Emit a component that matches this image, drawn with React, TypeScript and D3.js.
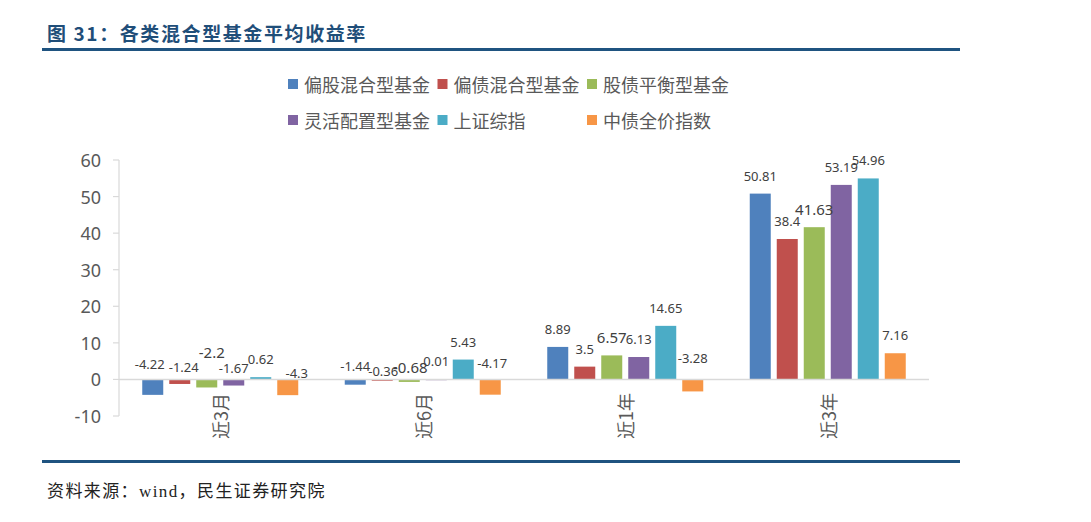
import React from "react";
import * as d3 from "d3";

const categories = ["近3月", "近6月", "近1年", "近3年"];
const seriesNames = ["偏股混合型基金", "偏债混合型基金", "股债平衡型基金", "灵活配置型基金", "上证综指", "中债全价指数"];
const pianGuValues = [-4.22, -1.44, 8.89, 50.81];
const pianZhaiValues = [-1.24, -0.36, 3.5, 38.4];
const guZhaiValues = [-2.2, -0.68, 6.57, 41.63];
const lingHuoValues = [-1.67, 0.01, 6.13, 53.19];
const shangZhengValues = [0.62, 5.43, 14.65, 54.96];
const zhongZhaiValues = [-4.3, -4.17, -3.28, 7.16];
const yTicks = [-10, 0, 10, 20, 30, 40, 50, 60];

const seriesValues = [pianGuValues, pianZhaiValues, guZhaiValues, lingHuoValues, shangZhengValues, zhongZhaiValues];
const colors = ["#4F81BD", "#C0504D", "#9BBB59", "#8064A2", "#4BACC6", "#F79646"];

// small label nudges (category-series) mimicking the reference's label placement
const labelNudge: Record<string, [number, number]> = {
  "0-0": [-3, 0],
  "0-1": [4, 2.5],
  "0-2": [5, -12.5],
  "0-3": [0, 3.5],
  "0-5": [9, 8.5],
  "1-0": [0, 1.5],
  "1-1": [1, 6.5],
  "1-2": [1, 2.5],
  "1-5": [2, -1],
  "2-5": [0, -6],
};

const SANS = '"Noto Sans CJK SC", "Noto Sans", sans-serif';
const NUM = '"Noto Sans", "Noto Sans CJK SC", sans-serif';

export default function App() {
  const W = 1091, H = 522;
  const plotLeft = 119, plotRight = 929;
  const y = d3.scaleLinear().domain([-10, 60]).range([416, 160]);
  const x0 = d3.scaleBand<string>().domain(categories).range([plotLeft, plotRight]).padding(0);
  const bw = x0.bandwidth();
  const groupW = 162;
  const x1 = d3
    .scaleBand<number>()
    .domain(d3.range(seriesNames.length))
    .range([(bw - groupW) / 2, (bw + groupW) / 2])
    .paddingInner(6 / 27)
    .paddingOuter(3 / 27);

  const fmt = (v: number) => String(v);

  return (
    <svg width={W} height={H} style={{ position: "absolute", left: 0, top: 0, background: "#fff" }}>
      <rect x={0} y={0} width={W} height={H} fill="#fff" />
      {/* Title */}
      <text x={47} y={41} fontFamily={SANS} fontWeight={700} fontSize={19} fill="#1F4E79" letterSpacing={1.6}>
        图 31：各类混合型基金平均收益率
      </text>
      <line x1={42} x2={960} y1={49.5} y2={49.5} stroke="#1F5380" strokeWidth={3} />

      {/* Legend */}
      {seriesNames.map((name, i) => {
        const col = i % 3;
        const row = Math.floor(i / 3);
        const lx = 288 + col * 149.5;
        const ly = 84 + row * 36;
        return (
          <g key={name}>
            <rect x={lx} y={ly - 5} width={10} height={10} fill={colors[i]} />
            <text x={lx + 16} y={ly} dominantBaseline="central" fontFamily={SANS} fontSize={18} fill="#595959">
              {name}
            </text>
          </g>
        );
      })}

      {/* Y axis */}
      <line x1={plotLeft} x2={plotLeft} y1={y(60)} y2={y(-10)} stroke="#D9D9D9" strokeWidth={1.2} />
      {yTicks.map((t) => (
        <g key={t}>
          <line x1={plotLeft - 6} x2={plotLeft} y1={y(t)} y2={y(t)} stroke="#D9D9D9" strokeWidth={1.2} />
          <text x={101} y={y(t)} textAnchor="end" dominantBaseline="central" fontFamily={NUM} fontSize={18} fill="#595959">
            {t}
          </text>
        </g>
      ))}

      {/* Bars */}
      {categories.map((c, ci) => (
        <g key={c} transform={`translate(${x0(c)},0)`}>
          {seriesValues.map((vals, si) => {
            const v = vals[ci];
            const top = y(Math.max(v, 0));
            const bottom = y(Math.min(v, 0));
            return (
              <rect key={si} x={x1(si)} y={top} width={x1.bandwidth()} height={Math.max(bottom - top, 0.8)} fill={colors[si]} />
            );
          })}
        </g>
      ))}

      {/* X axis (zero line) */}
      <line x1={plotLeft} x2={plotRight} y1={y(0)} y2={y(0)} stroke="#D9D9D9" strokeWidth={1.5} />

      {/* Data labels */}
      {categories.map((c, ci) => (
        <g key={c + "lab"} transform={`translate(${x0(c)},0)`}>
          {seriesValues.map((vals, si) => {
            const v = vals[ci];
            const big = si === 2;
            const [dx, dy] = labelNudge[`${ci}-${si}`] || [0, 0];
            const cy = (v >= 0 ? y(v) - 18 : y(0) - 15) + dy;
            return (
              <text
                key={si}
                x={(x1(si) as number) + x1.bandwidth() / 2 + dx}
                y={cy}
                textAnchor="middle"
                dominantBaseline="central"
                fontFamily={NUM}
                fontSize={big ? 15 : 13}
                fill="#404040"
              >
                {fmt(v)}
              </text>
            );
          })}
        </g>
      ))}

      {/* Category labels */}
      {categories.map((c) => {
        const cx = (x0(c) as number) + bw / 2;
        return (
          <text
            key={c + "cat"}
            transform={`translate(${cx},${393}) rotate(-90)`}
            textAnchor="end"
            dominantBaseline="central"
            fontFamily={SANS}
            fontSize={18}
            fill="#595959"
          >
            {c}
          </text>
        );
      })}

      {/* Bottom rule & source */}
      <line x1={42} x2={960} y1={461.5} y2={461.5} stroke="#1F5380" strokeWidth={3} />
      <text x={47} y={497} fontFamily={'"Liberation Serif", "Noto Sans CJK SC", serif'} fontSize={17} fill="#222" letterSpacing={1.4}>
        资料来源：wind，民生证券研究院
      </text>
    </svg>
  );
}
